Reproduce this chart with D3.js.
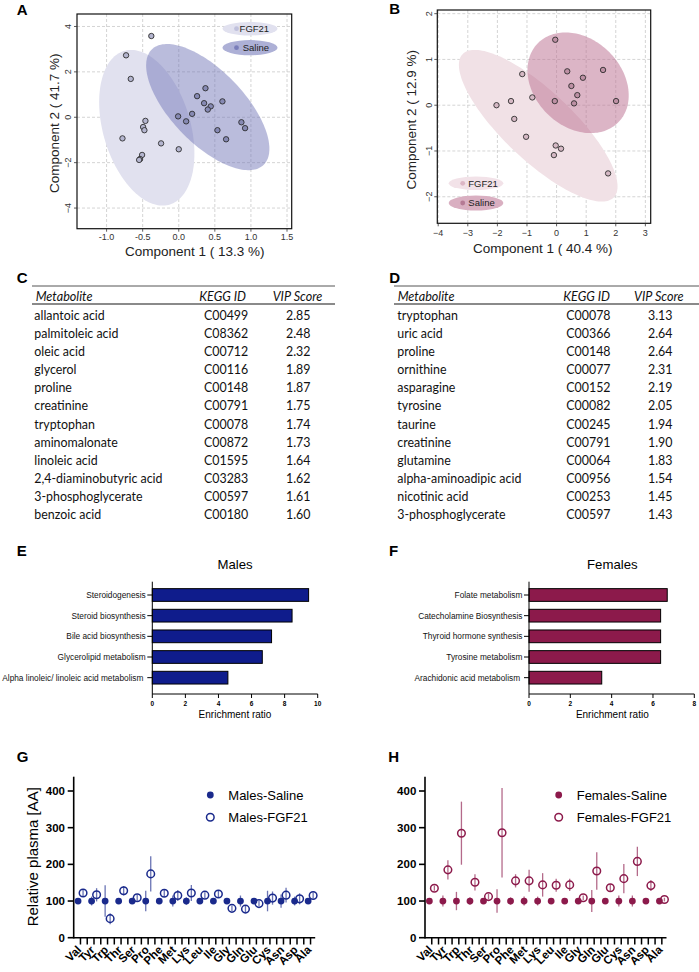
<!DOCTYPE html>
<html><head><meta charset="utf-8">
<script src="https://cdn.jsdelivr.net/npm/d3@7/dist/d3.min.js"></script>
<style>
html,body{margin:0;padding:0;background:#fff;}
svg text{font-family:"Liberation Sans",Arial,Helvetica,sans-serif;}
svg text.tbl{font-family:Lato,"Open Sans",sans-serif;}
</style></head>
<body><svg id="fig" width="699" height="972" xmlns="http://www.w3.org/2000/svg"></svg>
<script>
// ================= DATA =================
// Panel A: PLS-DA scores, males
const pcaMalesX = [-0.38,-0.73,-0.665,0.37,0.254,0.605,0.351,0.443,0.402,0.185,-0.009,0.102,-0.462,-0.494,-0.476,0.868,0.919,0.536,0.656,-0.78,-0.245,0.0,-0.508,-0.536,-0.549];
const pcaMalesY = [3.58,2.73,1.69,1.28,0.93,0.70,0.62,0.48,0.34,0.15,0.04,-0.18,-0.16,-0.43,-0.57,-0.22,-0.48,-0.57,-0.97,-0.93,-1.15,-1.41,-1.66,-1.84,-1.88];
const pcaMalesGroup = ["FGF21","FGF21","FGF21","Saline","Saline","Saline","Saline","Saline","Saline","Saline","Saline","Saline","FGF21","FGF21","FGF21","Saline","Saline","Saline","Saline","FGF21","FGF21","FGF21","FGF21","FGF21","FGF21"];
// confidence ellipses (centre, half-extent x/y, correlation)
const ellGroups = ["FGF21","Saline"];
const ellMalesCX = [-0.443, 0.402];
const ellMalesCY = [-0.463, 0.448];
const ellMalesSX = [0.660, 0.854];
const ellMalesSY = [3.43, 2.78];
const ellMalesR  = [-0.33, -0.66];
const malesXTicks = [-1.0,-0.5,0.0,0.5,1.0,1.5];
const malesYTicks = [-4,-2,0,2,4];

// Panel B: PLS-DA scores, females
const pcaFemalesX = [-0.045,0.36,1.57,0.89,-1.16,0.50,0.70,-0.82,-1.54,-0.06,0.59,2.01,-2.03,-1.43,-1.03,-0.03,0.15,-0.09,1.74];
const pcaFemalesY = [1.43,0.74,0.77,0.60,0.68,0.42,0.22,0.17,0.09,0.09,0.04,0.09,0.0,-0.30,-0.69,-0.88,-0.95,-1.09,-1.49];
const pcaFemalesGroup = ["Saline","Saline","Saline","Saline","FGF21","Saline","Saline","FGF21","FGF21","Saline","Saline","Saline","FGF21","FGF21","FGF21","FGF21","FGF21","FGF21","FGF21"];
const ellFemalesCX = [-0.62, 0.727];
const ellFemalesCY = [-0.448, 0.49];
const ellFemalesSX = [2.68, 1.71];
const ellFemalesSY = [1.657, 1.10];
const ellFemalesR  = [-0.80, -0.25];
const femalesXTicks = [-4,-3,-2,-1,0,1,2,3];
const femalesYTicks = [-2,-1,0,1,2];

// Panel C / D tables
const tableHeaders = ["Metabolite","KEGG ID","VIP Score"];
const malesMetabolites = ["allantoic acid","palmitoleic acid","oleic acid","glycerol","proline","creatinine","tryptophan","aminomalonate","linoleic acid","2,4-diaminobutyric acid","3-phosphoglycerate","benzoic acid"];
const malesKegg = ["C00499","C08362","C00712","C00116","C00148","C00791","C00078","C00872","C01595","C03283","C00597","C00180"];
const malesVip = ["2.85","2.48","2.32","1.89","1.87","1.75","1.74","1.73","1.64","1.62","1.61","1.60"];
const femalesMetabolites = ["tryptophan","uric acid","proline","ornithine","asparagine","tyrosine","taurine","creatinine","glutamine","alpha-aminoadipic acid","nicotinic acid","3-phosphoglycerate"];
const femalesKegg = ["C00078","C00366","C00148","C00077","C00152","C00082","C00245","C00791","C00064","C00956","C00253","C00597"];
const femalesVip = ["3.13","2.64","2.64","2.31","2.19","2.05","1.94","1.90","1.83","1.54","1.45","1.43"];

// Panel E / F enrichment
const malesPathways = ["Steroidogenesis","Steroid biosynthesis","Bile acid biosynthesis","Glycerolipid metabolism","Alpha linoleic/ linoleic acid metabolism "];
const malesEnrichment = [9.45, 8.45, 7.21, 6.65, 4.57];
const malesEnrTicks = [0,2,4,6,8,10];
const femalesPathways = ["Folate metabolism","Catecholamine Biosynthesis","Thyroid hormone synthesis","Tyrosine metabolism","Arachidonic acid metabolism "];
const femalesEnrichment = [6.69, 6.37, 6.37, 6.37, 3.52];
const femalesEnrTicks = [0,2,4,6,8];

// Panel G / H amino acids
const aminoAcids = ["Val","Tyr","Trp","Thr","Ser","Pro","Phe","Met","Lys","Leu","Ile","Gly","Gln","Glu","Cys","Asn","Asp","Ala"];
const aaTicks = [0,100,200,300,400];
const malesSaline    = [100,100,100,100,100,100,100,100,100,100,100,100,100,100,100,100,100,100];
const malesSalineErr = [4,12,43,5,5,28,6,15,10,5,5,5,15,6,28,18,12,5];
const malesFGF21     = [122,117,52,128,109,174,121,115,122,116,119,80,78,93,108,116,106,115];
const malesFGF21Err  = [8,18,15,13,8,48,10,15,22,8,10,8,10,8,18,20,15,8];
const femalesSaline    = [100,100,100,100,100,100,100,100,100,100,100,100,100,100,100,100,100,100];
const femalesSalineErr = [3,15,25,10,8,32,10,12,12,5,5,8,30,5,15,15,5,5];
const femalesFGF21     = [135,185,285,151,112,286,155,155,144,143,144,109,182,136,161,208,142,104];
const femalesFGF21Err  = [7,26,86,22,8,122,18,30,32,18,17,6,51,9,40,40,15,5];

// ================= DRAWING =================
const svg = d3.select("#fig");
svg.append("rect").attr("width",699).attr("height",972).attr("fill","#fff");

function panelLabel(t,x,y){
  svg.append("text").attr("x",x).attr("y",y).text(t)
    .attr("font-size",15).attr("font-weight","bold").attr("fill","#000");
}

function ellipsePts(cx,cy,sx,sy,r){
  const pts=[]; const q=Math.sqrt(1-r*r);
  for(let i=0;i<160;i++){const t=i/160*2*Math.PI;
    pts.push([cx+sx*Math.cos(t), cy+sy*(r*Math.cos(t)+q*Math.sin(t))]);}
  return pts;
}

function scatter(c){
  const g = svg.append("g");
  const x = d3.scaleLinear().domain(c.xDom).range([c.L,c.R]);
  const y = d3.scaleLinear().domain(c.yDom).range([c.B,c.T]);
  const clip = svg.append("clipPath").attr("id",c.id);
  clip.append("rect").attr("x",c.L).attr("y",c.T).attr("width",c.R-c.L).attr("height",c.B-c.T);
  // grid
  g.selectAll(null).data(c.xTicks).enter().append("line")
    .attr("x1",d=>x(d)).attr("x2",d=>x(d)).attr("y1",c.T).attr("y2",c.B)
    .attr("stroke","#c9c9c9").attr("stroke-width",0.8).attr("stroke-dasharray","3,2");
  g.selectAll(null).data(c.yTicks).enter().append("line")
    .attr("y1",d=>y(d)).attr("y2",d=>y(d)).attr("x1",c.L).attr("x2",c.R)
    .attr("stroke","#c9c9c9").attr("stroke-width",0.8).attr("stroke-dasharray","3,2");
  // ellipses
  const line = d3.line().x(d=>x(d[0])).y(d=>y(d[1])).curve(d3.curveLinearClosed);
  ellGroups.forEach((grp,i)=>{
    g.append("path").attr("d",line(ellipsePts(c.ecx[i],c.ecy[i],c.esx[i],c.esy[i],c.er[i])))
      .attr("fill",c.ellFill[i]).attr("fill-opacity",c.ellOp[i]).attr("clip-path",`url(#${c.id})`);
  });
  // points
  g.selectAll(null).data(c.px.map((v,i)=>i)).enter().append("circle")
    .attr("cx",i=>x(c.px[i])).attr("cy",i=>y(c.py[i])).attr("r",2.7)
    .attr("fill",i=>c.ptFill[ellGroups.indexOf(c.pg[i])])
    .attr("stroke","#262626").attr("stroke-width",0.85);
  // frame
  g.append("rect").attr("x",c.L).attr("y",c.T).attr("width",c.R-c.L).attr("height",c.B-c.T)
    .attr("fill","none").attr("stroke","#111").attr("stroke-width",1.2);
  // x ticks
  g.selectAll(null).data(c.xTicks).enter().append("line")
    .attr("x1",d=>x(d)).attr("x2",d=>x(d)).attr("y1",c.B).attr("y2",c.B+3).attr("stroke","#333").attr("stroke-width",0.8);
  g.selectAll(null).data(c.xTicks).enter().append("text")
    .attr("x",d=>x(d)).attr("y",c.B+c.xLabOff).attr("text-anchor","middle")
    .attr("font-size",9).attr("fill","#333").text(c.xFmt);
  // y ticks
  g.selectAll(null).data(c.yTicks).enter().append("line")
    .attr("x1",c.L-3).attr("x2",c.L).attr("y1",d=>y(d)).attr("y2",d=>y(d)).attr("stroke","#333").attr("stroke-width",0.8);
  g.selectAll(null).data(c.yTicks).enter().append("text")
    .attr("transform",d=>`translate(${c.L-c.yLabOff},${y(d)}) rotate(-90)`)
    .attr("text-anchor","middle").attr("font-size",9).attr("fill","#333").text(d=>d3.format("d")(d));
  // titles
  g.append("text").attr("x",c.xtX).attr("y",c.xtY).attr("text-anchor","middle")
    .attr("font-size",13.5).attr("fill","#222").text(c.xTitle);
  g.append("text").attr("transform",`translate(${c.ytX},${c.ytY}) rotate(-90)`).attr("text-anchor","middle")
    .attr("font-size",13.5).attr("fill","#222").text(c.yTitle);
  // legend
  ellGroups.forEach((grp,i)=>{
    const ly = c.legY[i];
    g.append("ellipse").attr("cx",c.legCX).attr("cy",ly).attr("rx",c.legRX).attr("ry",i?7.6:6.8)
      .attr("fill",c.legFill[i]);
    g.append("circle").attr("cx",c.legDotX).attr("cy",ly).attr("r",2.4).attr("fill",c.legDot[i]);
    g.append("text").attr("x",c.legTX[i]).attr("y",ly+3.4).attr("font-size",9.5).attr("fill","#222").text(grp);
  });
}

scatter({id:"clipA",L:77,R:291.7,T:14,B:228.7,xDom:[-1.41,1.565],yDom:[-4.91,4.55],
  xTicks:malesXTicks,yTicks:malesYTicks,xFmt:d=>d3.format(".1f")(d).replace("−","-"),
  px:pcaMalesX,py:pcaMalesY,pg:pcaMalesGroup,
  ecx:ellMalesCX,ecy:ellMalesCY,esx:ellMalesSX,esy:ellMalesSY,er:ellMalesR,
  ellFill:["#e1e1ef","#6e73b6"],ellOp:[1,0.48],ptFill:["#b4b5cf","#8689b3"],
  xLabOff:11.5,yLabOff:5.8,
  xTitle:"Component 1 ( 13.3 %)",xtX:194.8,xtY:256,
  yTitle:"Component 2 ( 41.7 %)",ytX:59.3,ytY:123.3,
  legCX:250,legRX:27.5,legY:[28.7,47.7],legDotX:236.5,legTX:[239.6,242.7],
  legFill:["#e1e1ef","#adb0d6"],legDot:["#c0c1dc","#7a7eba"]});

scatter({id:"clipB",L:437.3,R:650.7,T:10,B:223.3,xDom:[-4.03,3.18],yDom:[-2.58,2.08],
  xTicks:femalesXTicks,yTicks:femalesYTicks,xFmt:d=>d3.format("d")(d),
  px:pcaFemalesX,py:pcaFemalesY,pg:pcaFemalesGroup,
  ecx:ellFemalesCX,ecy:ellFemalesCY,esx:ellFemalesSX,esy:ellFemalesSY,er:ellFemalesR,
  ellFill:["#f1e1e6","#bb7292"],ellOp:[1,0.52],ptFill:["#d5b8c4","#bd90a4"],
  xLabOff:12.7,yLabOff:5.4,
  xTitle:"Component 1 ( 40.4 %)",xtX:542.8,xtY:253,
  yTitle:"Component 2 ( 12.9 %)",ytX:415.7,ytY:119.7,
  legCX:476,legRX:27.3,legY:[183.3,203],legDotX:462.7,legTX:[468.3,468.3],
  legFill:["#f2e2e8","#d9afc1"],legDot:["#dcb6c5","#b57a94"]});

panelLabel("A",16.7,15);
panelLabel("B",389.3,14);

// ---------- tables ----------
function table(c){
  const g = svg.append("g");
  g.append("line").attr("x1",c.x0).attr("x2",c.x1).attr("y1",286).attr("y2",286).attr("stroke","#555").attr("stroke-width",1);
  g.append("line").attr("x1",c.x0).attr("x2",c.x1).attr("y1",304).attr("y2",304).attr("stroke","#8a8a8a").attr("stroke-width",1.8);
  tableHeaders.forEach((h,i)=>{
    g.append("text").attr("class","tbl").attr("x",c.hx[i]).attr("y",300.5).attr("font-size",12.6)
      .attr("font-style","italic").attr("fill","#111").text(h);
  });
  const rowY = d3.scaleLinear().domain([0,11]).range([319.7,519.3]);
  [c.names,c.kegg,c.vip].forEach((col,j)=>{
    g.selectAll(null).data(col).enter().append("text").attr("class","tbl")
      .attr("x",c.cx[j]).attr("y",(d,i)=>rowY(i)).attr("font-size",12.4).attr("fill","#111").text(d=>d);
  });
}
table({x0:32,x1:335,hx:[35.7,199.3,272.7],cx:[34.3,204,286],names:malesMetabolites,kegg:malesKegg,vip:malesVip});
table({x0:394,x1:699,hx:[397.7,563.3,634],cx:[397.3,566.3,648],names:femalesMetabolites,kegg:femalesKegg,vip:femalesVip});
panelLabel("C",16.7,282.7);
panelLabel("D",389.3,282.7);

// ---------- enrichment bars ----------
function bars(c){
  const g = svg.append("g");
  const x = d3.scaleLinear().domain([0,c.max]).range([c.L,c.R]);
  const y = d3.scaleBand().domain(c.cats).range([584.67,688]).paddingInner(0.385).paddingOuter(0.1925);
  g.selectAll(null).data(c.cats).enter().append("rect")
    .attr("x",x(0)).attr("y",d=>y(d)).attr("width",(d,i)=>x(c.vals[i])-x(0)).attr("height",y.bandwidth())
    .attr("fill",c.color).attr("stroke","#000").attr("stroke-width",1);
  g.append("line").attr("x1",c.L).attr("x2",c.L).attr("y1",581.7).attr("y2",694).attr("stroke","#000").attr("stroke-width",1);
  g.append("line").attr("x1",c.L).attr("x2",c.R).attr("y1",694).attr("y2",694).attr("stroke","#000").attr("stroke-width",1);
  g.selectAll(null).data(c.cats).enter().append("line")
    .attr("x1",c.L-5).attr("x2",c.L).attr("y1",d=>y(d)+y.bandwidth()/2).attr("y2",d=>y(d)+y.bandwidth()/2).attr("stroke","#000");
  g.selectAll(null).data(c.cats).enter().append("text")
    .attr("x",c.L-6.6).attr("y",d=>y(d)+y.bandwidth()/2).attr("dy","0.35em").attr("text-anchor","end")
    .attr("font-size",8.3).attr("fill","#111").style("white-space","pre").text(d=>d);
  g.selectAll(null).data(c.ticks).enter().append("line")
    .attr("x1",d=>x(d)).attr("x2",d=>x(d)).attr("y1",694).attr("y2",698).attr("stroke","#000");
  g.selectAll(null).data(c.ticks).enter().append("text")
    .attr("x",d=>x(d)).attr("y",706).attr("text-anchor","middle").attr("font-size",6.5).attr("font-weight","bold").text(d=>d);
  g.append("text").attr("x",c.tx).attr("y",718).attr("text-anchor","middle").attr("font-size",10).text("Enrichment ratio");
  g.append("text").attr("x",c.tx).attr("y",569.3).attr("text-anchor","middle").attr("font-size",13.2).text(c.title);
}
bars({L:152.3,R:317.7,max:10,cats:malesPathways,vals:malesEnrichment,ticks:malesEnrTicks,color:"#0f1c8c",tx:235,title:"Males"});
bars({L:529,R:694.3,max:8,cats:femalesPathways,vals:femalesEnrichment,ticks:femalesEnrTicks,color:"#8c1a4b",tx:612.3,title:"Females"});
panelLabel("E",16.7,556);
panelLabel("F",389,556);

// ---------- amino acid dot plots ----------
function dots(c){
  const g = svg.append("g");
  const x = d3.scaleBand().domain(aminoAcids).range([c.L,c.L+243.6]);
  const y = d3.scaleLinear().domain([0,439]).range([937.7,776.7]);
  const cx = d=>x(d)+x.bandwidth()/2;
  // axes
  g.append("line").attr("x1",c.L).attr("x2",c.L).attr("y1",776.7).attr("y2",938.5).attr("stroke","#000").attr("stroke-width",1.6);
  g.append("line").attr("x1",c.L).attr("x2",c.L+241.5).attr("y1",937.7).attr("y2",937.7).attr("stroke","#000").attr("stroke-width",1.6);
  g.selectAll(null).data(aaTicks).enter().append("line")
    .attr("x1",c.L-6).attr("x2",c.L).attr("y1",d=>y(d)).attr("y2",d=>y(d)).attr("stroke","#000").attr("stroke-width",1.6);
  g.selectAll(null).data(aaTicks).enter().append("text")
    .attr("x",c.L-8.7).attr("y",d=>y(d)).attr("dy","0.36em").attr("text-anchor","end")
    .attr("font-size",11.5).attr("font-weight","bold").text(d=>d);
  // x ticks at column centres and boundaries
  const tickPos = [];
  aminoAcids.forEach((d,i)=>{ if(i>0) tickPos.push(x(d)); tickPos.push(cx(d)); });
  g.selectAll(null).data(tickPos).enter().append("line")
    .attr("x1",d=>d).attr("x2",d=>d).attr("y1",937.7).attr("y2",944.5).attr("stroke","#000").attr("stroke-width",1.5);
  g.selectAll(null).data(aminoAcids).enter().append("text")
    .attr("transform",d=>`translate(${cx(d)+1.5},${950.5}) rotate(-45)`).attr("text-anchor","end")
    .attr("font-size",11.5).attr("font-weight","bold").text(d=>d);
  // error bars
  const sets = [[c.sal,c.salErr,-2.4],[c.fgf,c.fgfErr,2.6]];
  sets.forEach(([v,e,off])=>{
    g.selectAll(null).data(aminoAcids).enter().append("line")
      .attr("x1",(d)=>cx(d)+off).attr("x2",d=>cx(d)+off)
      .attr("y1",(d,i)=>y(v[i]-e[i])).attr("y2",(d,i)=>y(v[i]+e[i]))
      .attr("stroke",c.color).attr("stroke-opacity",0.65).attr("stroke-width",1.3);
  });
  g.selectAll(null).data(aminoAcids).enter().append("circle")
    .attr("cx",d=>cx(d)-2.4).attr("cy",(d,i)=>y(c.sal[i])).attr("r",3.4).attr("fill",c.color);
  g.selectAll(null).data(aminoAcids).enter().append("circle")
    .attr("cx",d=>cx(d)+2.6).attr("cy",(d,i)=>y(c.fgf[i])).attr("r",3.8)
    .attr("fill","none").attr("stroke",c.color).attr("stroke-width",1.5);
  // legend
  g.append("circle").attr("cx",c.legX).attr("cy",795).attr("r",3.4).attr("fill",c.color);
  g.append("text").attr("x",c.legX+18).attr("y",799.6).attr("font-size",13).text(c.names[0]);
  g.append("circle").attr("cx",c.legX).attr("cy",817.3).attr("r",3.8).attr("fill","none").attr("stroke",c.color).attr("stroke-width",1.5);
  g.append("text").attr("x",c.legX+18).attr("y",821.9).attr("font-size",13).text(c.names[1]);
  if(c.yTitle){
    g.append("text").attr("transform","translate(37.5,856.7) rotate(-90)").attr("text-anchor","middle")
      .attr("font-size",15).text(c.yTitle);
  }
}
dots({L:73.7,sal:malesSaline,salErr:malesSalineErr,fgf:malesFGF21,fgfErr:malesFGF21Err,color:"#1a2a8c",
  legX:210.3,names:["Males-Saline","Males-FGF21"],yTitle:"Relative plasma [AA]"});
dots({L:425,sal:femalesSaline,salErr:femalesSalineErr,fgf:femalesFGF21,fgfErr:femalesFGF21Err,color:"#8c1a4b",
  legX:558.7,names:["Females-Saline","Females-FGF21"],yTitle:null});
panelLabel("G",16.7,761.7);
panelLabel("H",388.3,761.7);
</script>
</body></html>
